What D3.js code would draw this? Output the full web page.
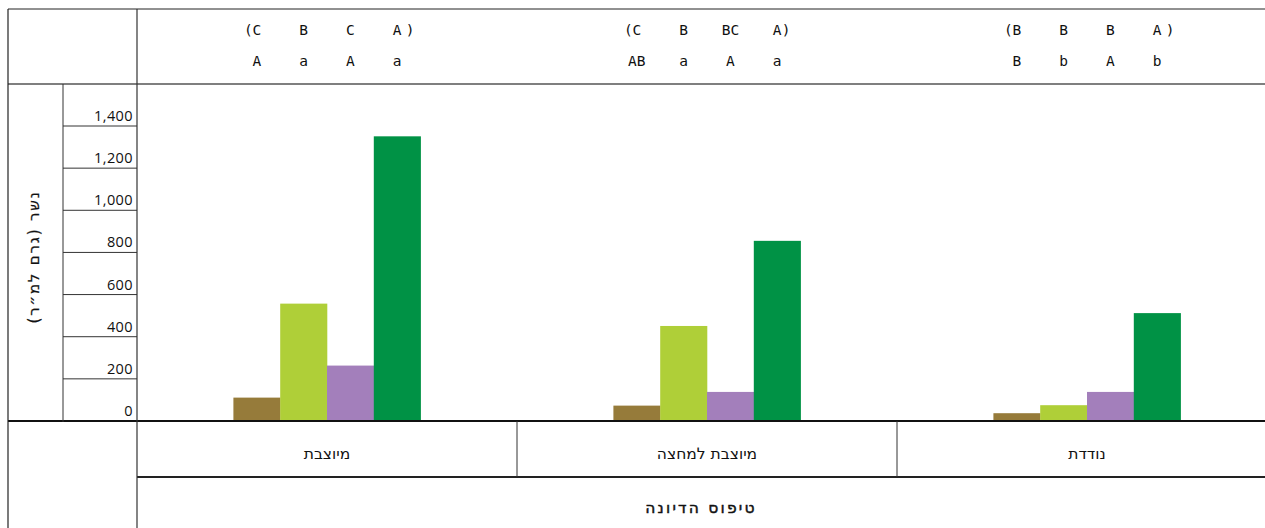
<!DOCTYPE html>
<html><head><meta charset="utf-8">
<script src="https://cdn.jsdelivr.net/npm/d3@7"></script>
<style>
html,body{margin:0;padding:0;background:#fff;}
svg{display:block;}
</style></head>
<body>
<svg id="chart" width="1265" height="528"></svg>
<script>
const categories = ["מיוצבת", "מיוצבת למחצה", "נודדת"];
const seriesNames = ["s1", "s2", "s3", "s4"];
const seriesColors = ["#967B3A", "#AFCF38", "#A37FBB", "#009245"];
const s1 = [111, 73, 37];
const s2 = [557, 451, 75];
const s3 = [263, 138, 138];
const s4 = [1351, 855, 512];
const letterRow1 = [["C","B","C","A"], ["C","B","BC","A"], ["B","B","B","A"]];
const letterRow2 = [["A","a","A","a"], ["AB","a","A","a"], ["B","b","A","b"]];
const yTicks = [0, 200, 400, 600, 800, 1000, 1200, 1400];
const yTitle = "נשר (גרם למ״ר)";
const xTitle = "טיפוס הדיונה";

const seriesValues = [s1, s2, s3, s4];
const svg = d3.select("#chart");
const W = 1265;
const L = 8, T = 9, HDR = 84, YAX = 63, PL = 137, BASE = 421, CATB = 477;

const x0 = d3.scaleBand().domain(categories).range([PL, PL + 3 * 380]).paddingInner(0).paddingOuter(0);
const x1 = d3.scaleBand().domain(seriesNames).range([0, x0.bandwidth()]).paddingInner(0).paddingOuter(2.06);
const y = d3.scaleLinear().domain([0, 1400]).range([BASE, 126]);

const line = (x1_, y1_, x2_, y2_, w, c) => svg.append("line")
  .attr("x1", x1_).attr("y1", y1_).attr("x2", x2_).attr("y2", y2_)
  .attr("stroke", c || "#333").attr("stroke-width", w || 1);

const mono = "'DejaVu Sans Mono', 'Liberation Mono', monospace";
const monoText = (x, yy, t) => svg.append("text").attr("x", x).attr("y", yy).attr("text-anchor", "middle")
  .attr("font-family", mono).attr("font-size", 14.5).attr("fill", "#111").text(t);

// bars
categories.forEach((cat, ci) => {
  const g = svg.append("g").attr("transform", `translate(${x0(cat)},0)`);
  seriesNames.forEach((s, si) => {
    const v = seriesValues[si][ci];
    g.append("rect")
      .attr("x", x1(s)).attr("width", x1.bandwidth() + 0.3)
      .attr("y", y(v)).attr("height", y(0) - y(v))
      .attr("fill", seriesColors[si]);
  });
  // header letters
  seriesNames.forEach((s, si) => {
    const cx = x0(cat) + x1(s) + x1.bandwidth() / 2;
    monoText(cx, 35, letterRow1[ci][si]);
    monoText(cx, 66, letterRow2[ci][si]);
  });
  const first = x0(cat) + x1(seriesNames[0]) + x1.bandwidth() / 2;
  const last = x0(cat) + x1(seriesNames[3]) + x1.bandwidth() / 2;
  const w0 = letterRow1[ci][0].length * 8.7 / 2;
  monoText(first - w0 - 4, 35, "(");
  monoText(last + (ci === 1 ? 9 : 13), 35, ")");
  // category label
  svg.append("text").attr("x", x0(cat) + x0.bandwidth() / 2).attr("y", 459)
    .attr("text-anchor", "middle").attr("font-family", "'DejaVu Sans', sans-serif")
    .attr("font-size", 15.5).attr("fill", "#111").attr("direction", "rtl")
    .text(cat);
});

// y grid & labels
yTicks.forEach(t => {
  line(YAX, y(t), PL, y(t), 1, "#333");
  svg.append("text").attr("x", 133).attr("y", y(t) - 5).attr("text-anchor", "end")
    .attr("font-family", "'Open Sans', 'Noto Sans', sans-serif").attr("font-size", 14.5)
    .attr("letter-spacing", 0.4).attr("fill", "#111").text(d3.format(",")(t));
});

// frame lines
line(L, T, W, T, 1, "#222");
line(L, HDR, W, HDR, 1.6, "#555");
line(L, BASE, W, BASE, 2, "#111");
line(PL, CATB, W, CATB, 2, "#222");
line(L, T, L, 528, 1.2, "#222");
line(PL, T, PL, 528, 1.2, "#333");
line(YAX, HDR, YAX, BASE + 1, 1, "#333");
x0.domain().slice(1).forEach(c => line(x0(c), BASE, x0(c), CATB, 1, "#333"));

// titles
svg.append("text").attr("transform", `translate(39,257) rotate(-90)`)
  .attr("text-anchor", "middle").attr("font-family", "'DejaVu Sans', sans-serif")
  .attr("font-size", 15).attr("letter-spacing", 1.8).attr("fill", "#111").attr("direction", "rtl")
  .attr("stroke", "#111").attr("stroke-width", 0.25)
  .text(yTitle);
svg.append("text").attr("x", (PL + W) / 2).attr("y", 513).attr("text-anchor", "middle")
  .attr("font-family", "'DejaVu Sans', sans-serif").attr("font-size", 15.5)
  .attr("stroke", "#111").attr("stroke-width", 0.45)
  .attr("letter-spacing", 2.2).attr("fill", "#111").attr("direction", "rtl").text(xTitle);
</script>
</body></html>
